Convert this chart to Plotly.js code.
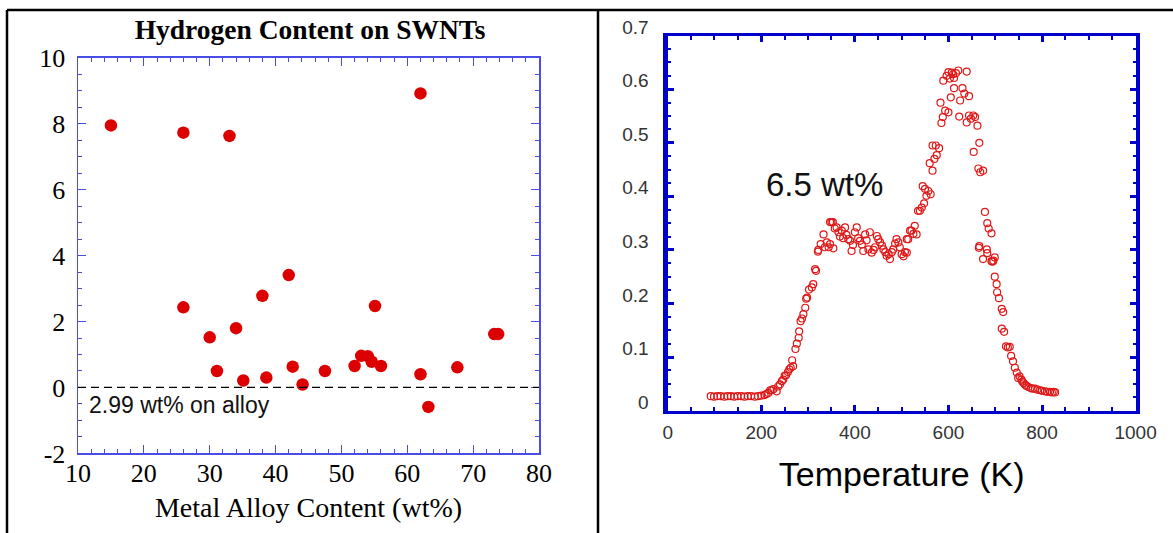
<!DOCTYPE html>
<html>
<head>
<meta charset="utf-8">
<script src="https://cdn.plot.ly/plotly-3.0.1.min.js"></script>
<style>html,body{margin:0;padding:0;background:#fff;}#chart{width:1173px;height:533px;}</style>
</head>
<body>
<div id="chart"></div>
<script>
// ---- Left panel: Hydrogen content vs metal alloy content ----
const alloyContent = [15.0, 26.0, 33.0, 62.0, 26.0, 30.0, 34.0, 38.0, 42.0, 55.1, 31.1, 35.1, 38.6, 42.6, 44.1, 47.5, 52.0, 53.0, 54.0, 54.6, 56.0, 62.0, 63.2, 67.6, 73.2, 73.8];
const hydrogenContent = [7.95, 7.73, 7.63, 8.92, 2.43, 1.52, 1.80, 2.78, 3.41, 2.47, 0.50, 0.21, 0.30, 0.63, 0.09, 0.50, 0.65, 0.96, 0.95, 0.78, 0.65, 0.40, -0.59, 0.61, 1.62, 1.62];
const leftXTicks = [10, 20, 30, 40, 50, 60, 70, 80];
const leftYTicks = [-2, 0, 2, 4, 6, 8, 10];

// ---- Right panel: desorption signal vs temperature ----
const tpdTemp = [92, 99, 106, 113, 121, 128, 135, 142, 149, 157, 164, 171, 178, 186, 193, 200, 207,
  211, 215, 219, 222, 226, 233, 236, 240, 244, 247, 250, 253, 257, 260, 263, 266, 268, 273, 276, 280, 281, 284, 287, 290, 294, 296, 298, 302, 308, 311, 315, 317,
  321, 322, 327, 333, 336, 340, 344, 347, 347, 350, 353, 354, 357, 361, 365, 368, 372, 375, 379, 382, 386, 390, 393, 396, 400, 404, 407, 411, 415, 418, 422, 425, 429, 432, 436, 440, 443, 447, 450, 454, 458, 461, 465, 468, 472, 475, 479, 482, 486, 489, 493, 496, 500, 504, 507, 511, 511, 514, 518, 521, 525, 528, 532,
  535, 539, 543, 545, 548, 550, 553, 557, 560, 562, 566, 566, 570, 573, 575, 580, 583, 585, 588, 589, 593, 596, 600, 600, 603, 605, 607, 610, 612, 612, 616, 621, 623, 625, 630, 634, 639, 639, 644, 644, 648, 653, 654, 657, 662,
  664, 665, 666, 666, 668, 674, 674, 678, 682, 683, 683, 686, 692, 692, 694, 696, 699, 699, 703, 704, 708, 714, 714, 717, 719, 723, 727, 731, 734, 738, 742, 746, 749, 752, 756, 758, 761, 764, 767, 771, 776, 780, 785, 790, 796, 800, 806, 811, 817, 821, 825, 828];
const tpdSignal = [0.027, 0.026, 0.027, 0.027, 0.026, 0.027, 0.027, 0.026, 0.027, 0.027, 0.026, 0.027, 0.027, 0.026, 0.027, 0.028, 0.029,
  0.031, 0.033, 0.038, 0.038, 0.040, 0.036, 0.045, 0.049, 0.055, 0.058, 0.065, 0.066, 0.072, 0.077, 0.080, 0.094, 0.083, 0.115, 0.125, 0.136, 0.148, 0.167, 0.172, 0.180, 0.192, 0.209, 0.211, 0.226, 0.230, 0.236, 0.264, 0.261,
  0.297, 0.300, 0.311, 0.329, 0.305, 0.314, 0.305, 0.311, 0.352, 0.352, 0.352, 0.303, 0.340, 0.342, 0.333, 0.325, 0.336, 0.322, 0.342, 0.328, 0.320, 0.317, 0.298, 0.309, 0.333, 0.342, 0.322, 0.317, 0.310, 0.298, 0.329, 0.318, 0.301, 0.333, 0.295, 0.300, 0.305, 0.326, 0.320, 0.314, 0.308, 0.301, 0.296, 0.289, 0.292, 0.283, 0.296, 0.301, 0.312, 0.320, 0.314, 0.305, 0.292, 0.288, 0.296, 0.295, 0.320, 0.320, 0.336, 0.336, 0.330, 0.345, 0.329,
  0.373, 0.373, 0.379, 0.419, 0.387, 0.414, 0.401, 0.410, 0.462, 0.404, 0.448, 0.495, 0.470, 0.495, 0.477, 0.490, 0.575, 0.537, 0.548, 0.616, 0.560, 0.625, 0.557, 0.632, 0.620, 0.585, 0.631, 0.628, 0.602, 0.621, 0.630, 0.635, 0.549, 0.579, 0.602, 0.592, 0.633, 0.538, 0.551, 0.587, 0.545, 0.551, 0.483, 0.548, 0.532,
  0.452, 0.304, 0.500, 0.307, 0.445, 0.448, 0.283, 0.371, 0.301, 0.350, 0.294, 0.340, 0.331, 0.279, 0.278, 0.280, 0.286, 0.250, 0.236, 0.221, 0.210, 0.190, 0.153, 0.184, 0.147, 0.120, 0.118, 0.119, 0.102, 0.092, 0.080, 0.071, 0.061, 0.064, 0.058, 0.054, 0.051, 0.048, 0.046, 0.044, 0.042, 0.041, 0.041, 0.039, 0.038, 0.037, 0.036, 0.035, 0.035, 0.034, 0.035, 0.034];
const rightXTicks = [0, 200, 400, 600, 800, 1000];
const rightYTicks = [0, 0.1, 0.2, 0.3, 0.4, 0.5, 0.6, 0.7];

const W = 1173, H = 533;
const px = v => v / W;
const py = v => 1 - v / H;

const leftBlue = '#4b4be6';
const rightBlue = '#0000cc';
const serif = 'Liberation Serif, Times New Roman, serif';
const sans = 'Liberation Sans, Arial, sans-serif';

const traces = [
  {
    x: alloyContent, y: hydrogenContent, xaxis: 'x', yaxis: 'y',
    type: 'scatter', mode: 'markers',
    marker: {color: '#dc0000', size: 12.5, line: {width: 0}},
    hoverinfo: 'x+y'
  },
  {
    x: tpdTemp, y: tpdSignal, xaxis: 'x2', yaxis: 'y2',
    type: 'scatter', mode: 'markers',
    marker: {symbol: 'circle-open', color: '#e01818', size: 7, line: {width: 1.2, color: '#e01818'}},
    hoverinfo: 'x+y'
  },
  {
    x: [], y: [], xaxis: 'x3', yaxis: 'y3', type: 'scatter', mode: 'markers', hoverinfo: 'skip'
  }
];

const layout = {
  width: W, height: H,
  margin: {l: 0, r: 0, t: 0, b: 0},
  paper_bgcolor: '#ffffff', plot_bgcolor: 'rgba(0,0,0,0)',
  showlegend: false,
  title: {
    text: '<b>Hydrogen Content on SWNTs</b>',
    font: {family: serif, size: 27.5, color: '#000'},
    x: px(310), xanchor: 'center', xref: 'paper',
    y: py(29), yanchor: 'middle', yref: 'paper'
  },
  xaxis: {
    domain: [px(78), px(539)], anchor: 'y',
    range: [10, 80], tickvals: leftXTicks, ticktext: leftXTicks.map(String),
    ticks: 'inside', ticklen: 8, tickwidth: 1, tickcolor: leftBlue,
    minor: {dtick: 2, tick0: 10, ticks: 'inside', ticklen: 4, tickwidth: 1, tickcolor: leftBlue, showgrid: false},
    showline: true, linecolor: leftBlue, linewidth: 1.5, mirror: 'allticks',
    showgrid: false, zeroline: false,
    tickfont: {family: serif, size: 26, color: '#000'},
    ticklabelstandoff: -4,
    title: {text: 'Metal Alloy Content (wt%)', font: {family: serif, size: 28, color: '#000'}, standoff: 10}
  },
  yaxis: {
    domain: [1 - 453.4 / H, 1 - 57.8 / H], anchor: 'x',
    range: [-2, 10], tickvals: leftYTicks, ticktext: leftYTicks.map(String),
    ticks: 'inside', ticklen: 8, tickwidth: 1, tickcolor: leftBlue,
    minor: {dtick: 0.5, tick0: 0, ticks: 'inside', ticklen: 4, tickwidth: 1, tickcolor: leftBlue, showgrid: false},
    showline: true, linecolor: leftBlue, linewidth: 1.5, mirror: 'allticks',
    showgrid: false, zeroline: false,
    tickfont: {family: serif, size: 26, color: '#000'},
    ticklabelstandoff: 6
  },
  xaxis2: {
    domain: [px(667.7), px(1135.6)], anchor: 'y2',
    range: [0, 1000], tickvals: rightXTicks, ticktext: rightXTicks.map(String),
    ticks: 'inside', ticklen: 6, tickwidth: 3, tickcolor: rightBlue,
    minor: {dtick: 50, tick0: 0, ticks: 'inside', ticklen: 4, tickwidth: 2, tickcolor: rightBlue, showgrid: false},
    showline: true, linecolor: rightBlue, linewidth: 3, mirror: 'allticks',
    showgrid: false, zeroline: false,
    tickfont: {family: sans, size: 19, color: '#333'},
    ticklabelstandoff: 3,
    title: {text: 'Temperature (K)', font: {family: sans, size: 34, color: '#000'}, standoff: 20}
  },
  yaxis2: {
    domain: [1 - 410.6 / H, 1 - 35.7 / H], anchor: 'x2',
    range: [0, 0.7], tickvals: rightYTicks,
    showticklabels: false,
    ticks: 'inside', ticklen: 6, tickwidth: 3, tickcolor: rightBlue,
    minor: {dtick: 0.025, tick0: 0, ticks: 'inside', ticklen: 3, tickwidth: 2, tickcolor: rightBlue, showgrid: false},
    showline: true, linecolor: rightBlue, linewidth: 4.5, mirror: 'allticks',
    showgrid: false, zeroline: false
  },
  xaxis3: {
    domain: [px(667.7), px(1135.6)], anchor: 'y3', range: [0, 1000], visible: false
  },
  yaxis3: {
    domain: [1 - 402 / H, 1 - 27 / H], anchor: 'free', position: px(667.7),
    range: [0, 0.7], tickvals: rightYTicks, ticktext: rightYTicks.map(String),
    ticks: '', showline: false, showgrid: false, zeroline: false,
    tickfont: {family: sans, size: 19, color: '#333'},
    ticklabelstandoff: 19
  },
  shapes: [
    {type: 'line', xref: 'x domain', yref: 'y', x0: 0, x1: 1, y0: 0, y1: 0,
     line: {color: '#000', width: 1.3, dash: '8px,5px'}},
    {type: 'line', xref: 'paper', yref: 'paper', x0: px(7), x1: 1, y0: py(10), y1: py(10), line: {color: '#000', width: 2.5}},
    {type: 'line', xref: 'paper', yref: 'paper', x0: px(7), x1: px(7), y0: 0, y1: py(10), line: {color: '#000', width: 2.5}},
    {type: 'line', xref: 'paper', yref: 'paper', x0: px(598), x1: px(598), y0: 0, y1: py(10), line: {color: '#000', width: 2.5}}
  ],
  annotations: [
    {text: '2.99 wt% on alloy', xref: 'x', yref: 'y', x: 11.3, y: -0.53, xanchor: 'left', yanchor: 'middle',
     showarrow: false, font: {family: sans, size: 23, color: '#111'}},
    {text: '6.5 wt%', xref: 'x2', yref: 'y2', x: 335, y: 0.423, xanchor: 'center', yanchor: 'middle',
     showarrow: false, font: {family: sans, size: 33, color: '#111'}}
  ]
};

Plotly.newPlot('chart', traces, layout, {displayModeBar: false, staticPlot: true});
</script>
</body>
</html>
